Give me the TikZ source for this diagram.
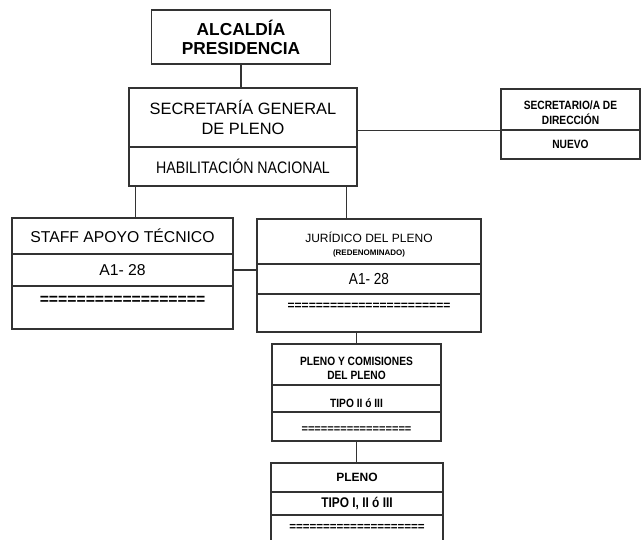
\documentclass[tikz,border=0pt]{standalone}
\usepackage{fontspec}
\setmainfont{Liberation Sans}
\newfontfamily\narrowfont{Liberation Sans}[FakeStretch=0.85]
\usetikzlibrary{calc}

\begin{document}
\begin{tikzpicture}[x=0.75pt, y=-0.75pt,
  cell/.style n args={2}{draw=black!80, line width=1.1pt, inner sep=0pt,
    minimum width=#1*0.75pt, minimum height=#2*0.75pt, align=center},
  txt/.style={inner sep=0pt, align=center},
  link/.style={draw=black!80, line width=1.1pt}]
  \useasboundingbox (0,0) rectangle (641,539);

  % top of the chart
  \node[cell={179}{54}, font=\bfseries\fontsize{13}{14.3}\selectfont] (alc)
  at (241,37) {ALCALDÍA\\PRESIDENCIA};
  \node[cell={228}{59}, font=\fontsize{12.3}{14.3}\selectfont] (sec1)
  at (243,117.5) {SECRETARÍA GENERAL\\DE PLENO};
  \node[cell={228}{39}, font=\narrowfont\fontsize{12.5}{14}\selectfont] (sec2)
  at (243,166.5) {HABILITACIÓN NACIONAL};

  \node[cell={139}{41}] (dir1) at (570.5,109.5) {};
  \node[txt, font=\narrowfont\bfseries\fontsize{9}{11}\selectfont] (dirname)
  at (570.5,112.5) {SECRETARIO/A DE\\DIRECCIÓN};
  \node[cell={139}{29}, font=\narrowfont\bfseries\fontsize{9}{11}\selectfont] (dir2)
  at (570.5,144.5) {NUEVO};

  % staff
  \node[cell={221}{36}, font=\fontsize{11.8}{14}\selectfont] (stf1)
  at (122.5,236) {STAFF APOYO TÉCNICO};
  \node[cell={221}{32}, font=\fontsize{11.8}{14}\selectfont] (stf2)
  at (122.5,270) {A1- 28};
  \node[cell={221}{43}] (stf3) at (122.5,307.5) {};
  \node[txt, font=\bfseries\fontsize{11.8}{14}\selectfont] (stfeq)
  at (122.5,300) {==================};

  % juridico
  \node[cell={224}{45}] (jur1) at (369,241.5) {};
  \node[txt, font=\fontsize{9}{11}\selectfont] (jurname)
  at (369,237) {JURÍDICO DEL PLENO};
  \node[txt, font=\bfseries\fontsize{6}{7}\selectfont] (jurnote)
  at (369,253) {(REDENOMINADO)};
  \node[cell={224}{30}, font=\narrowfont\fontsize{12}{14}\selectfont] (jur2)
  at (369,279) {A1- 28};
  \node[cell={224}{38}] (jur3) at (369,313) {};
  \node[txt, font=\bfseries\fontsize{9.1}{11}\selectfont] (jureq)
  at (369,306) {=======================};

  % pleno y comisiones
  \node[cell={169}{41}] (pc1) at (356.5,364.5) {};
  \node[txt, font=\narrowfont\bfseries\fontsize{9}{10.5}\selectfont] (pcname)
  at (356.5,368) {PLENO Y COMISIONES\\DEL PLENO};
  \node[cell={169}{27}] (pc2) at (356.5,398.5) {};
  \node[txt, font=\narrowfont\bfseries\fontsize{9}{10.5}\selectfont] (pctype)
  at (356.5,403) {TIPO II ó III};
  \node[cell={169}{29}] (pc3) at (356.5,426.5) {};
  \node[txt, font=\bfseries\fontsize{8.3}{10}\selectfont] (pceq)
  at (356.5,430) {=================};

  % pleno
  \node[cell={172}{29}, font=\bfseries\fontsize{9}{11}\selectfont] (pl1)
  at (357,477.5) {PLENO};
  \node[cell={172}{23}, font=\narrowfont\bfseries\fontsize{10.5}{12}\selectfont] (pl2)
  at (357,503.5) {TIPO I, II ó III};
  \node[cell={172}{45}] (pl3) at (357,537.5) {};
  \node[txt, font=\bfseries\fontsize{8.7}{10}\selectfont] (pleq)
  at (357,527) {====================};

  % connectors
  \coordinate (sl) at ($(sec2.south west)+(7,0)$);
  \coordinate (sr) at ($(sec2.south east)+(-11,0)$);
  \draw[link] (alc.south) -- (alc.south |- sec1.north);
  \draw[link] (dir1.south west) -- (dir1.south west -| sec1.east);
  \draw[link] (sl) -- (sl |- stf1.north);
  \draw[link] (sr) -- (sr |- jur1.north);
  \draw[link] (stf2.east) -- (stf2.east -| jur2.west);
  \draw[link] (jur3.south -| pc1.north) -- (pc1.north);
  \draw[link] (pc3.south) -- (pc3.south |- pl1.north);
\end{tikzpicture}
\end{document}
